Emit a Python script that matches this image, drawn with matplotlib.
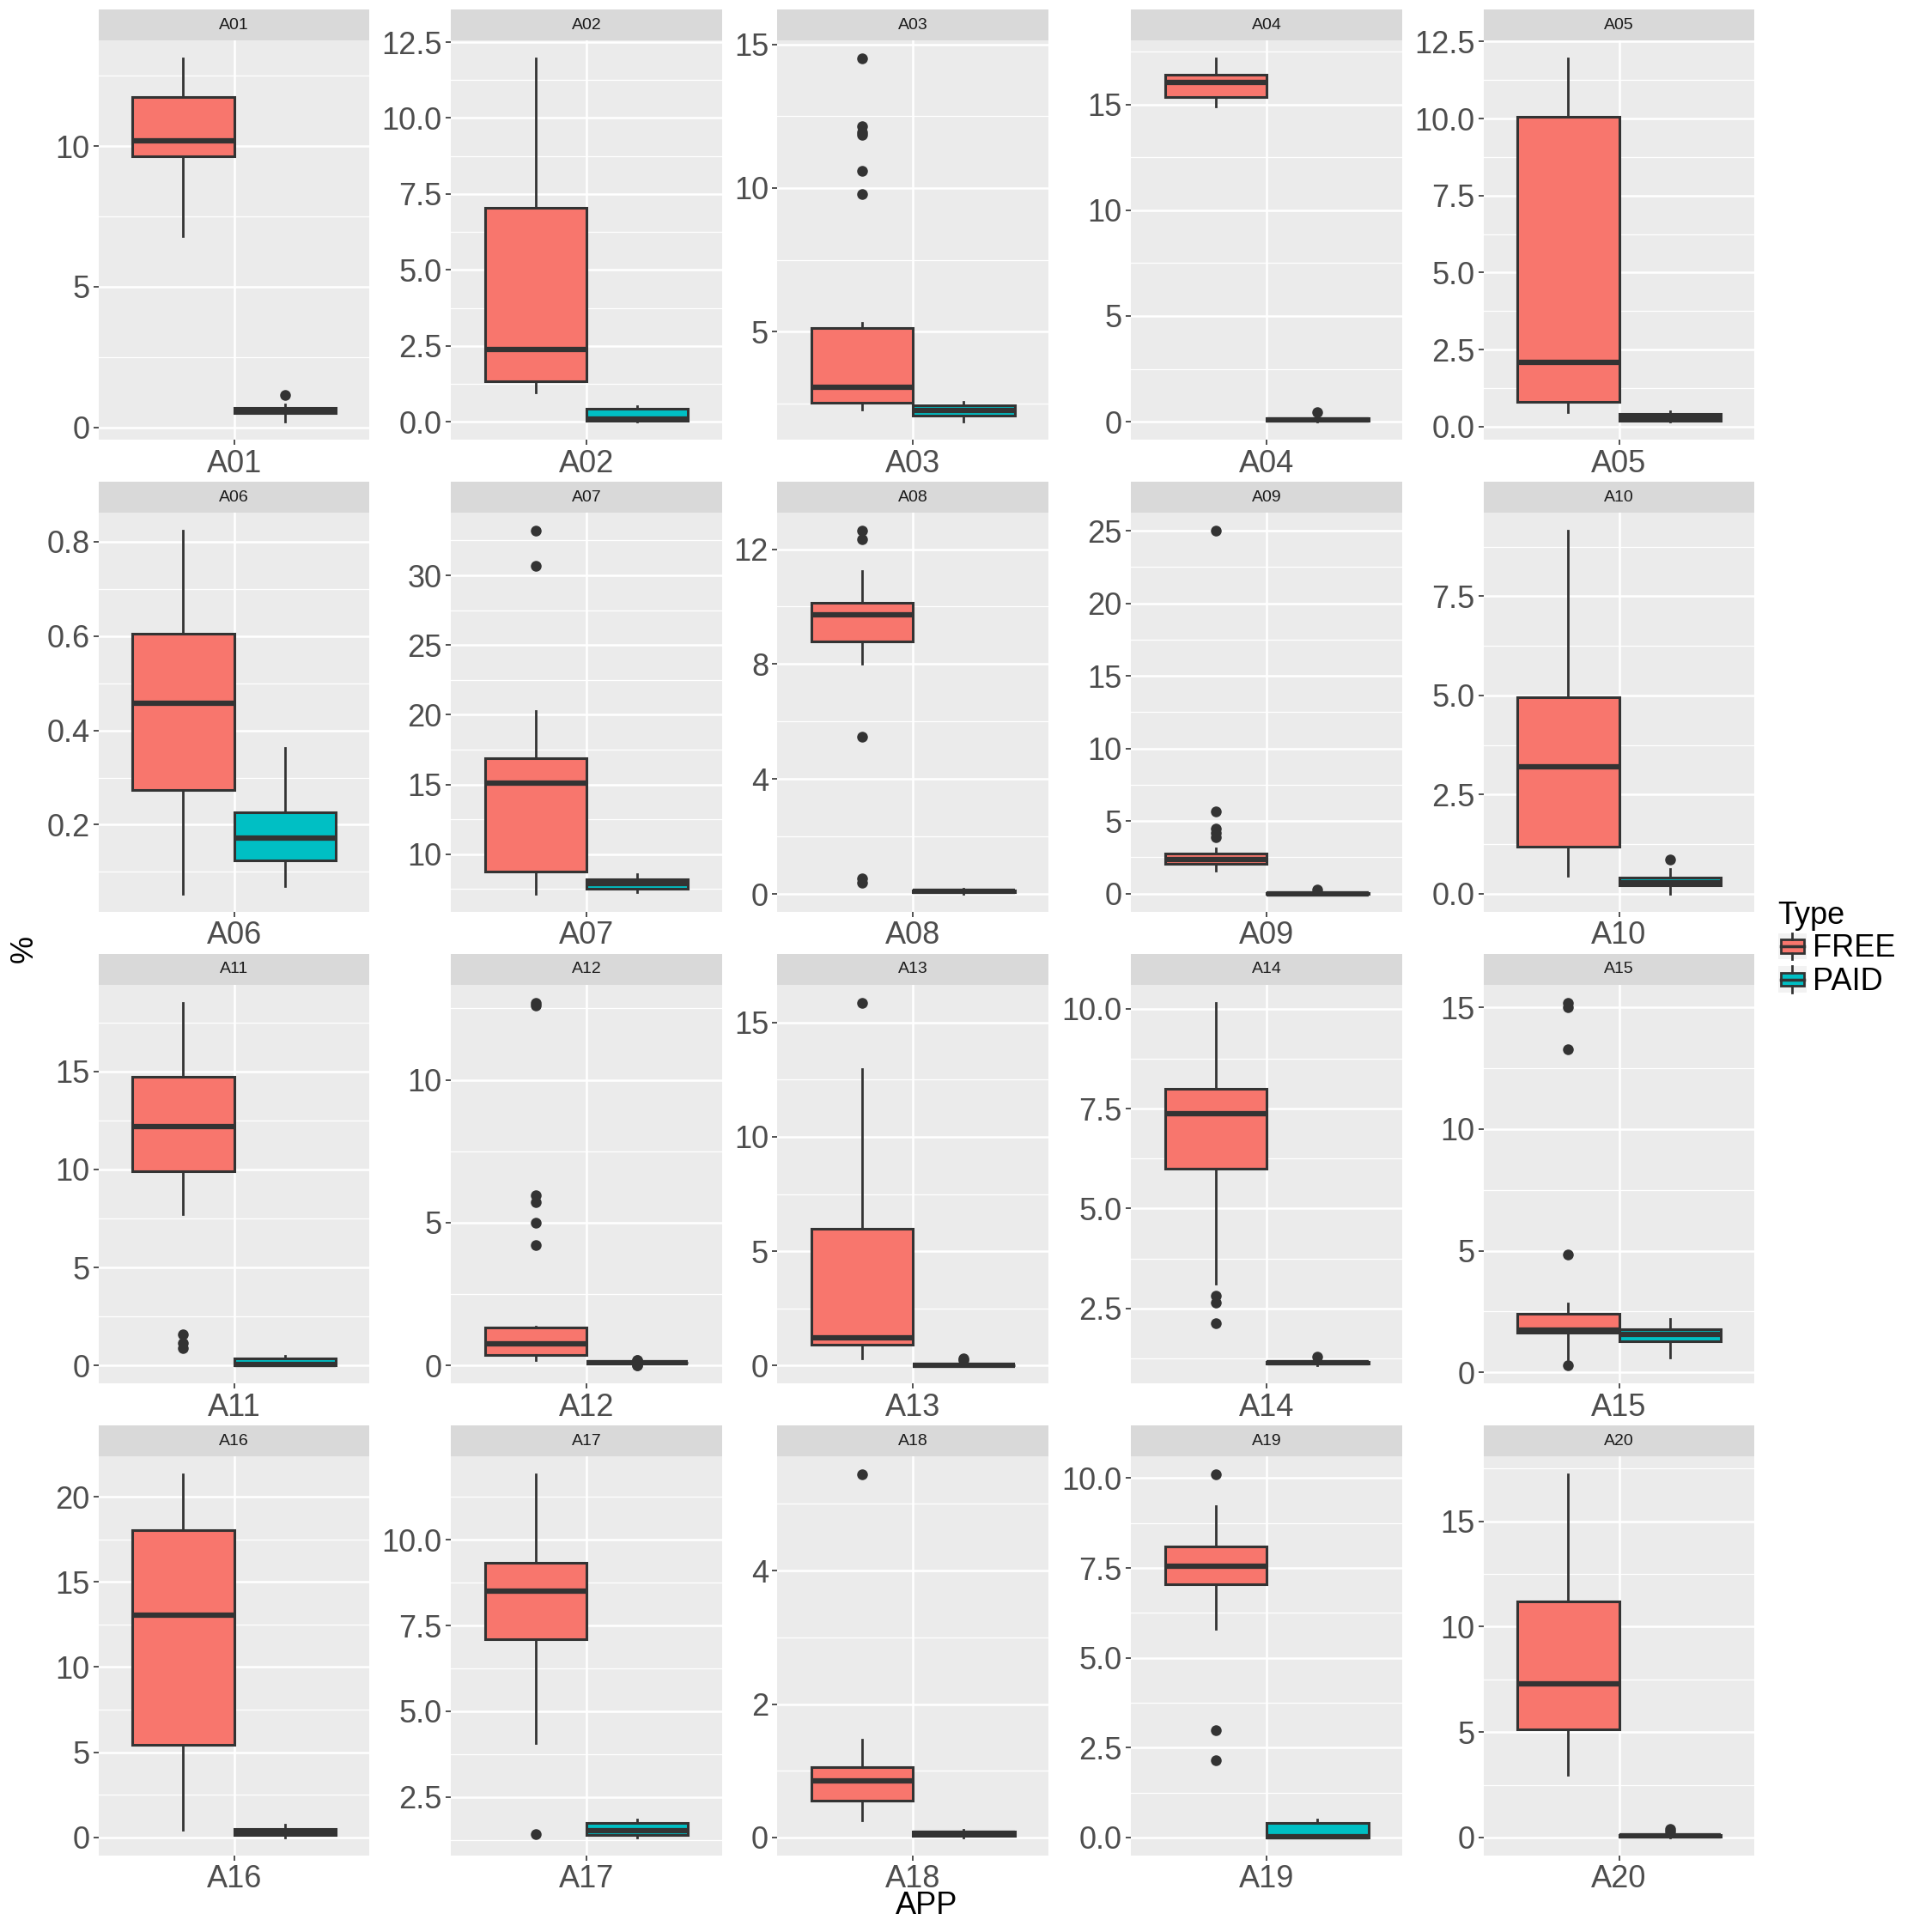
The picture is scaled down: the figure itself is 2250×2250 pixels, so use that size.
import matplotlib
matplotlib.use("Agg")
import matplotlib.pyplot as plt
from matplotlib.ticker import MultipleLocator, FormatStrFormatter
from matplotlib.legend_handler import HandlerBase
from matplotlib.patches import Rectangle, Patch
from matplotlib.lines import Line2D

plt.rcParams["font.family"] = ["Liberation Sans", "DejaVu Sans"]

# ---- data: [whislo, q1, median, q3, whishi] and outliers per app ----
apps = ["A01", "A02", "A03", "A04", "A05",
        "A06", "A07", "A08", "A09", "A10",
        "A11", "A12", "A13", "A14", "A15",
        "A16", "A17", "A18", "A19", "A20"]

free_box = [
    [6.8, 9.65, 10.2, 11.75, 13.1],
    [0.97, 1.34, 2.39, 7.05, 11.95],
    [2.28, 2.53, 3.05, 5.13, 5.3],
    [14.9, 15.35, 16.05, 16.4, 17.16],
    [0.48, 0.81, 2.08, 10.06, 11.94],
    [0.054, 0.273, 0.458, 0.604, 0.823],
    [7.17, 8.76, 15.1, 16.9, 20.3],
    [8.0, 8.79, 9.73, 10.12, 11.23],
    [1.56, 2.05, 2.35, 2.74, 3.1],
    [0.44, 1.18, 3.2, 4.95, 9.15],
    [7.7, 9.9, 12.2, 14.7, 18.5],
    [0.2, 0.37, 0.77, 1.32, 1.35],
    [0.31, 0.9, 1.23, 5.99, 12.95],
    [3.12, 5.99, 7.38, 8.0, 10.15],
    [0.55, 1.63, 1.75, 2.41, 2.83],
    [0.43, 5.42, 13.07, 18.05, 21.3],
    [4.08, 7.09, 8.49, 9.32, 11.9],
    [0.26, 0.55, 0.85, 1.05, 1.46],
    [5.8, 7.05, 7.55, 8.1, 9.22],
    [2.98, 5.14, 7.3, 11.2, 17.22],
]
free_out = [
    [], [], [9.8, 10.6, 11.85, 11.95, 12.15, 14.5], [], [],
    [], [30.7, 33.2], [0.39, 0.56, 5.49, 12.34, 12.64], [3.9, 4.2, 4.5, 5.69, 25.0], [],
    [0.88, 1.13, 1.57], [4.22, 5.0, 5.73, 5.95, 12.6, 12.7], [15.87], [2.13, 2.65, 2.81],
    [0.28, 4.83, 13.27, 15.0, 15.2],
    [], [1.42], [5.44], [2.14, 2.98, 10.1], [],
]
paid_box = [
    [0.2, 0.5, 0.6, 0.7, 0.8],
    [0.0, 0.02, 0.1, 0.42, 0.52],
    [1.86, 2.08, 2.25, 2.43, 2.55],
    [0.0, 0.05, 0.1, 0.18, 0.25],
    [0.16, 0.2, 0.27, 0.41, 0.5],
    [0.07, 0.124, 0.171, 0.226, 0.362],
    [7.25, 7.5, 7.9, 8.23, 8.6],
    [0.02, 0.06, 0.1, 0.13, 0.18],
    [0.0, 0.0, 0.01, 0.03, 0.05],
    [0.0, 0.2, 0.28, 0.4, 0.62],
    [0.0, 0.0, 0.05, 0.38, 0.5],
    [0.07, 0.09, 0.1, 0.11, 0.13],
    [0.0, 0.0, 0.0, 0.01, 0.02],
    [1.07, 1.11, 1.14, 1.17, 1.2],
    [0.61, 1.27, 1.55, 1.77, 2.2],
    [0.0, 0.14, 0.29, 0.5, 0.75],
    [1.32, 1.39, 1.53, 1.75, 1.85],
    [0.0, 0.03, 0.06, 0.09, 0.12],
    [0.0, 0.0, 0.01, 0.41, 0.49],
    [0.0, 0.03, 0.06, 0.1, 0.14],
]
paid_out = [
    [1.15], [], [], [0.45], [],
    [], [], [], [0.3], [0.87],
    [], [0.0, 0.02, 0.18, 0.2], [0.22, 0.3], [1.3], [],
    [], [], [], [], [0.3, 0.41],
]
# y break step per panel (ggplot picks these)
y_step = [5, 2.5, 5, 5, 2.5,
          0.2, 5, 4, 5, 2.5,
          5, 5, 5, 2.5, 5,
          5, 2.5, 2, 2.5, 5]

FREE_COL = "#F8766D"
PAID_COL = "#00BFC4"
DARK = "#333333"

# layout measured on a 1568 px grid
S = 1568.0
col_left = [80, 366, 631, 918, 1204]
panel_w = 220
row_top = [33, 416, 799, 1182]
panel_h = 324
strip_h = 25


def stats(v, out):
    return dict(whislo=v[0], q1=v[1], med=v[2], q3=v[3], whishi=v[4], fliers=out)


fig = plt.figure(figsize=(22.5, 22.5), dpi=100)

for i, app in enumerate(apps):
    r, c = divmod(i, 5)
    left = col_left[c] / S
    bottom = 1 - (row_top[r] + panel_h) / S
    ax = fig.add_axes([left, bottom, panel_w / S, panel_h / S])
    ax.set_facecolor("#EBEBEB")
    for s in ax.spines.values():
        s.set_visible(False)

    bp = ax.bxp([stats(free_box[i], free_out[i]), stats(paid_box[i], paid_out[i])],
                positions=[0.775, 1.225], widths=0.45, patch_artist=True,
                showcaps=False,
                boxprops=dict(edgecolor=DARK, linewidth=2.2),
                medianprops=dict(color=DARK, linewidth=4.5, solid_capstyle="butt"),
                whiskerprops=dict(color=DARK, linewidth=2.0),
                flierprops=dict(marker="o", markerfacecolor=DARK, markeredgecolor=DARK,
                                markersize=8))
    for patch, col in zip(bp["boxes"], [FREE_COL, PAID_COL]):
        patch.set_facecolor(col)
    for art in bp["boxes"] + bp["medians"] + bp["whiskers"] + bp["fliers"]:
        art.set_zorder(3)

    ax.set_xlim(0.4, 1.6)
    ax.set_ymargin(0.05)
    ax.autoscale_view(scalex=False)
    ax.set_xticks([1])
    ax.set_xticklabels([app])
    step = y_step[i]
    ax.yaxis.set_major_locator(MultipleLocator(step))
    ax.yaxis.set_minor_locator(MultipleLocator(step / 2))
    if step in (2.5, 0.2):
        ax.yaxis.set_major_formatter(FormatStrFormatter("%.1f"))
    else:
        ax.yaxis.set_major_formatter(FormatStrFormatter("%d"))

    ax.grid(True, which="major", color="white", linewidth=1.8)
    ax.grid(True, which="minor", axis="y", color="white", linewidth=0.9)
    ax.set_axisbelow(True)
    ax.tick_params(which="major", length=4.5, width=1.2, color=DARK,
                   labelcolor="#4D4D4D", labelsize=26, pad=3)
    ax.tick_params(which="minor", length=0)

    # facet strip
    sax = fig.add_axes([left, 1 - row_top[r] / S, panel_w / S, strip_h / S])
    sax.set_facecolor("#D9D9D9")
    sax.set_xticks([])
    sax.set_yticks([])
    for s in sax.spines.values():
        s.set_visible(False)
    sax.text(0.5, 0.5, app, ha="center", va="center", fontsize=14, color="#1A1A1A",
             transform=sax.transAxes)

fig.text(20 / S, 1 - 770 / S, "%", rotation=90, ha="center", va="center", fontsize=26)
fig.text(752 / S, 1 - 1547 / S, "APP", ha="center", va="center", fontsize=26)


class BoxKey(HandlerBase):
    def create_artists(self, legend, orig_handle, xdescent, ydescent, width, height,
                       fontsize, trans):
        x0, y0 = -xdescent, -ydescent
        bg = Rectangle((x0, y0), width, height, facecolor="#F2F2F2", edgecolor="none",
                       transform=trans)
        box = Rectangle((x0 + 0.1 * width, y0 + 0.25 * height), 0.8 * width, 0.5 * height,
                        facecolor=orig_handle.get_facecolor(), edgecolor=DARK, lw=2,
                        transform=trans)
        med = Line2D([x0 + 0.1 * width, x0 + 0.9 * width], [y0 + 0.5 * height] * 2,
                     color=DARK, lw=2.5, transform=trans)
        wh1 = Line2D([x0 + 0.5 * width] * 2, [y0, y0 + 0.25 * height], color=DARK, lw=2,
                     transform=trans)
        wh2 = Line2D([x0 + 0.5 * width] * 2, [y0 + 0.75 * height, y0 + height], color=DARK,
                     lw=2, transform=trans)
        return [bg, box, med, wh1, wh2]


handles = [Patch(facecolor=FREE_COL), Patch(facecolor=PAID_COL)]
leg = fig.legend(handles, ["FREE", "PAID"], title="Type", loc="upper left",
                 bbox_to_anchor=(1443 / S, 1 - 731 / S), frameon=False, fontsize=26,
                 title_fontsize=26, handlelength=0.92, handleheight=0.92,
                 handletextpad=0.2, labelspacing=0.08, borderaxespad=0, borderpad=0,
                 handler_map={Patch: BoxKey()})
leg._legend_box.align = "left"

fig.savefig("out.png", dpi=100)
